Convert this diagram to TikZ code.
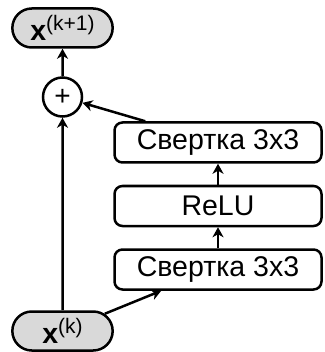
\documentclass[tikz,border=0pt]{standalone}
\usepackage{fontspec}
\setmainfont{Liberation Sans}
\usetikzlibrary{shapes.misc, arrows.meta, positioning}

\begin{document}
\begin{tikzpicture}[x=1pt, y=1pt]
\tikzstyle{layer} = [rectangle, rounded corners=8pt, minimum width=207pt, minimum height=40pt, text centered, draw=black, line width=2.5pt, font=\fontsize{28.5}{32}\selectfont]
\tikzstyle{pill} = [rounded rectangle, minimum width=107pt, minimum height=39pt, draw=black, fill=black!15, line width=2.5pt, font=\fontsize{28.5}{32}\selectfont]
\tikzstyle{sum} = [circle, minimum size=39pt, inner sep=0pt, draw=black, line width=2.5pt, font=\fontsize{28}{30}\selectfont]
\tikzstyle{arrow} = [line width=2.5pt, -{Stealth[length=10pt, width=11pt, inset=3pt]}]
\newcommand{\feat}[1]{\textbf{x}\raisebox{10pt}{\fontsize{21}{22}\selectfont(#1)}}

\useasboundingbox (0,0) rectangle (324,-352);

\node (xk) [pill] at (62.5,-331) {\feat{k}};
\node (conv1) [layer] at (218,-269.5) {Свертка 3x3};
\node (relu) [layer, above=21pt of conv1] {ReLU};
\node (conv2) [layer, above=21pt of relu] {Свертка 3x3};
\node (plus) [sum] at (62.5,-97) {+};
\node (xk1) [pill] at (62.5,-28) {\feat{k+1}};

\draw [arrow] (xk) -- (plus);
\draw [arrow] (xk) -- ([xshift=48pt]conv1.south west);
\draw [arrow] (conv1) -- (relu);
\draw [arrow] (relu) -- (conv2);
\draw [arrow] ([xshift=32pt]conv2.north west) -- (plus);
\draw [arrow] (plus) -- (xk1);
\end{tikzpicture}
\end{document}
